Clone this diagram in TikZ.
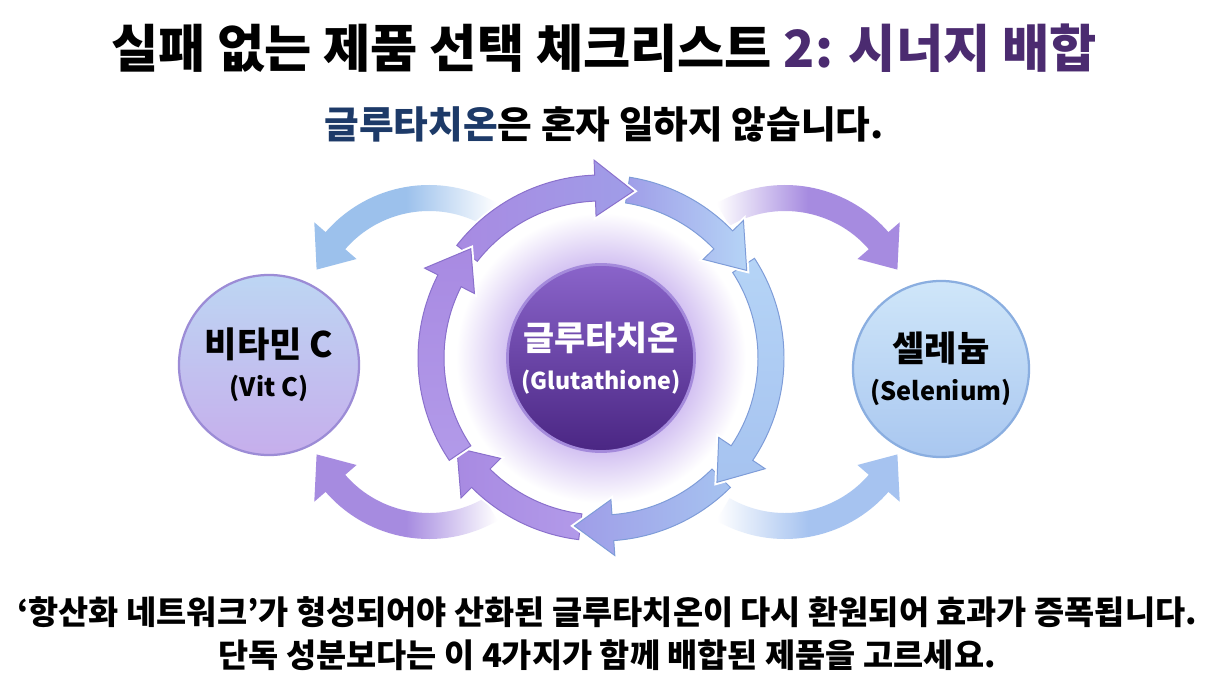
\documentclass[tikz,border=0pt]{standalone}
\usepackage{fontspec}
\setmainfont{Noto Sans CJK KR}
\usetikzlibrary{positioning}
\definecolor{titlepurple}{HTML}{4B2B70}
\definecolor{subnavy}{HTML}{1D3A68}
\definecolor{haloc}{HTML}{CDB9F0}
\definecolor{gshtop}{HTML}{8A64CA}
\definecolor{gshbot}{HTML}{4A2683}
\definecolor{gshrim}{HTML}{A48ADB}
\definecolor{vitctop}{HTML}{BDD6F3}
\definecolor{vitcbot}{HTML}{C6AEEC}
\definecolor{vitcedge}{HTML}{9C8CD6}
\definecolor{seletop}{HTML}{CFE6F9}
\definecolor{selebot}{HTML}{A9C7F0}
\definecolor{seleedge}{HTML}{8AAEE0}
\definecolor{arrpurple}{HTML}{A88AE2}
\definecolor{arrlilac}{HTML}{B29AE9}
\definecolor{arrviolet}{HTML}{9F9DE8}
\definecolor{arrblue}{HTML}{A6C3F0}
\definecolor{arrsky}{HTML}{B5D4F6}
\definecolor{edgepurple}{HTML}{8A70CC}
\definecolor{edgeblue}{HTML}{7E9CD8}
\definecolor{outblue}{HTML}{9CC1EC}
\definecolor{outpurple}{HTML}{A68BE0}
\pgfdeclareradialshading{halo}{\pgfpoint{0bp}{0bp}}{color(0bp)=(haloc); color(15bp)=(haloc); color(25bp)=(white); color(50bp)=(white)}
% curved block arrow: centre, radius, start, head base, tip, style
\newcommand{\bentarrow}[6]{%
  \begin{scope}[shift={(#1)}]
    \path[#6] ({#3}:{#2+13}) arc[start angle={#3}, end angle={#4}, radius={#2+13}]
      -- ({#4}:{#2+28}) -- ({#5}:{#2}) -- ({#4}:{#2-28}) -- ({#4}:{#2-13})
      arc[start angle={#4}, end angle={#3}, radius={#2-13}] -- cycle;
  \end{scope}}

\begin{document}
\begin{tikzpicture}[
    x=0.025cm, y=0.025cm,
    ringarrow/.style={draw=#1, line width=0.7pt, preaction={draw=white, line width=3.5pt}},
    sidecircle/.style={circle, draw=#1, line width=1.6pt, minimum size=4.5cm,
      align=center, font=\bfseries\fontsize{25}{28}\selectfont},
    headline/.style={font=\bfseries\fontsize{#1}{#1}\selectfont, inner sep=0pt}
  ]
    \fill[white] (0,0) rectangle (1214,680);
    \useasboundingbox (0,0) rectangle (1214,680);

    \coordinate (ring) at (601,322);
    \coordinate (lt) at (429,358);
    \coordinate (lb) at (429,278);
    \coordinate (rt) at (785,358);
    \coordinate (rb) at (785,278);

    \shade[shading=halo] (ring) circle (145);

    % outer arrows to the partner circles
    \bentarrow{lt}{124}{60}{139}{155}{left color=outblue, right color=white, middle color=outblue}
    \bentarrow{lb}{124}{-60}{-139}{-155}{left color=outpurple, right color=white, middle color=outpurple}
    \bentarrow{rt}{124}{120}{41}{25}{left color=white, right color=outpurple, middle color=outpurple}
    \bentarrow{rb}{124}{-120}{-41}{-25}{left color=white, right color=arrblue, middle color=arrblue}

    % recycling ring
    \bentarrow{ring}{170}{-97}{-135}{-148}{ringarrow=edgepurple, left color=arrpurple, right color=arrlilac}
    \bentarrow{ring}{170}{-45}{-86}{-99}{ringarrow=edgeblue, left color=arrviolet, right color=arrblue}
    \bentarrow{ring}{170}{33}{-34}{-47}{ringarrow=edgeblue, top color=arrsky, bottom color=arrblue}
    \bentarrow{ring}{170}{81}{44}{31}{ringarrow=edgeblue, left color=arrviolet, right color=arrsky}
    \bentarrow{ring}{170}{142}{92}{79}{ringarrow=edgepurple, left color=arrpurple, right color=arrviolet}
    \bentarrow{ring}{170}{214}{153}{140}{ringarrow=edgepurple, top color=arrpurple, bottom color=arrlilac}

    \node[circle, minimum size=4.55cm, top color=gshtop, bottom color=gshbot, draw=gshrim,
      line width=2pt, text=white, align=center, font=\bfseries\fontsize{24}{28}\selectfont] (gsh) at (ring)
      {글루타치온\\{\fontsize{16.5}{20}\selectfont (Glutathione)}};
    \node[sidecircle=vitcedge, top color=vitctop, bottom color=vitcbot] (vitc) at (269,315)
      {비타민 C\\{\fontsize{18}{20}\selectfont (Vit C)}};
    \node[sidecircle=seleedge, top color=seletop, bottom color=selebot, minimum size=4.4cm] (selen) at (941,311)
      {셀레늄\\{\fontsize{18}{20}\selectfont (Selenium)}};

    \node[headline=36.5] (title) at (604,632)
      {실패 없는 제품 선택 체크리스트 \textcolor{titlepurple}{2: 시너지 배합}};
    \node[headline=26.8, below=0.85cm of title] (subtitle)
      {\textcolor{subnavy}{글루타치온}은 혼자 일하지 않습니다.};

    \node[headline=23.3] (note1) at (607,68)
      {‘항산화 네트워크’가 형성되어야 산화된 글루타치온이 다시 환원되어 효과가 증폭됩니다.};
    \node[headline=23.3, below=0.3cm of note1] (note2)
      {단독 성분보다는 이 4가지가 함께 배합된 제품을 고르세요.};
\end{tikzpicture}
\end{document}
